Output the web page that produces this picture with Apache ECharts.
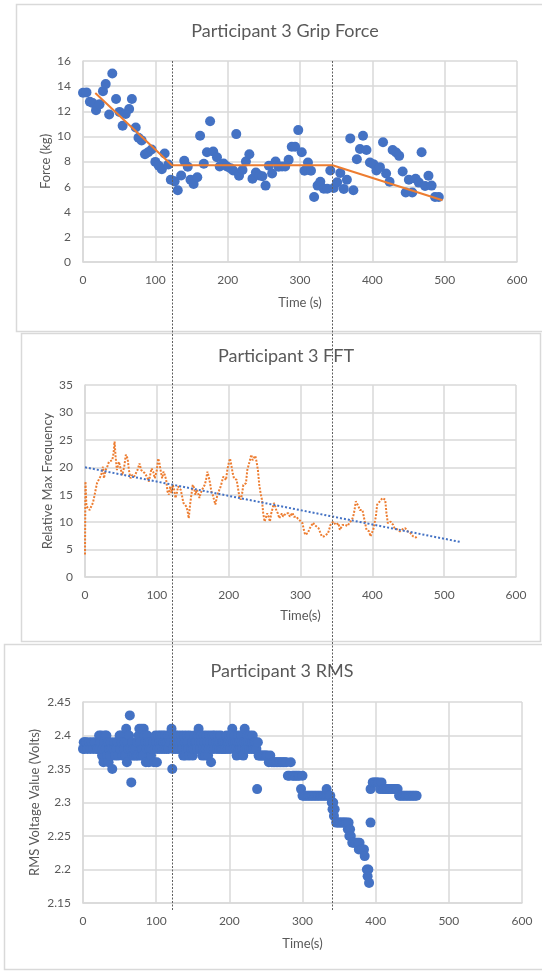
<!DOCTYPE html>
<html>
<head>
<meta charset="utf-8">
<script src="https://cdn.jsdelivr.net/npm/echarts@6/dist/echarts.min.js"></script>
<style>
html,body{margin:0;padding:0;background:#fff;}
#c{width:542px;height:972px;}
</style>
</head>
<body>
<div id="c"></div>
<script>
// ---------- Panel 1: Grip force ----------
const gripTime = [0,4.8,9.5,13.3,18,22.9,27.6,31.4,36.2,40.5,45.7,50.5,54.8,59,63.8,67.6,72.9,76.7,81,85.7,90,94.8,100,104.8,109,112.9,118,121.4,126.7,131,135.7,140,144.8,148.6,152.9,158,161.9,167,171.4,175.7,180,185.2,189,194.3,199,203.8,207.6,211.9,215.7,220.5,225.2,230,234.3,239,243.8,248,252.4,257,261.4,266.2,270.5,275.2,279.5,284.3,288.6,293.3,297.6,302.4,306.2,311,315.2,319.5,324.3,328.1,332.9,337.6,341.9,346.7,351.4,355.7,360.5,364.8,369.5,373.8,378.6,382.9,387.1,391.9,396.7,401.4,405.7,410.5,414.8,419,423.8,428.1,432.9,437.1,441.9,446.2,450.5,455.2,459.8,464.3,468.1,472.9,477.6,481.9,486.7,491.9];
const gripForce = [13.47,13.5,12.76,12.66,12.08,12.55,13.6,14.16,11.74,15.0,12.97,11.95,10.84,11.79,12.18,12.97,10.71,9.89,9.68,8.58,8.74,8.95,7.97,7.66,7.39,8.63,7.76,6.55,6.42,5.71,6.89,8.05,7.58,6.55,6.21,6.74,10.05,7.82,8.74,11.21,8.79,8.34,7.6,7.84,7.6,7.47,7.29,10.18,6.87,7.32,8.0,8.58,6.63,7.13,6.89,6.82,6.08,7.66,7.05,8.0,7.58,7.6,7.6,8.13,9.18,9.18,10.5,8.74,7.26,7.92,7.26,5.18,6.08,6.39,5.84,5.84,7.29,5.89,6.34,7.08,5.82,6.55,9.84,5.71,8.18,9.0,10.05,8.92,7.92,7.79,7.29,7.55,9.53,7.05,6.39,8.92,8.71,8.45,7.21,5.53,6.55,5.53,6.63,6.32,8.74,6.05,6.87,6.08,5.18,5.18];
const gripTrendTime = [17,123,345,497];
const gripTrendForce = [13.45,7.7,7.7,4.92];

// ---------- Panel 2: FFT ----------
const fftTime = [0,0.6,2,3.7,6.5,8.8,11,13,14.8,16.7,19.4,21.3,23,25,26.4,28.7,31,33.3,35.6,38,39.8,41.2,42.6,44.4,47.2,49.5,51.9,54.6,56.9,59.3,61.1,63.4,65.7,68.5,70.8,73.1,75.9,78.2,80.6,83.3,86.1,88.9,91.2,92.6,94.9,97.2,100,101.9,103.7,105.6,107.4,109.3,111.1,113,114.8,116.7,118.5,120.4,122.2,124.1,125.9,127.8,129.6,131.5,133.3,135.2,137,138.9,140.7,142.6,144.4,146.3,148.1,150,151.9,153.7,155.6,157.4,159.3,161.1,163,164.8,166.7,168.5,170.4,172.2,174.1,175.9,177.8,179.6,181.5,183.3,185.2,187,188.9,190.7,192.6,194.4,196.3,198.1,200,201.9,203.7,205.6,207.4,209.3,211.1,213,214.8,216.7,218.5,220.4,222.2,224.1,225.9,227.8,229.6,231.5,233.3,235.2,237,238.9,240.7,242.6,244.4,246.3,248.1,250,251.9,253.7,255.6,257.4,259.3,261.1,263,264.8,266.7,268.5,270.4,272.2,274.1,275.9,277.8,279.6,281.5,283.3,285.2,287,288.9,290.7,292.6,294.4,296.5,298.3,300,302.8,304.6,306.5,308.4,310.2,313,315.8,317.6,319.5,322.3,325.1,326.9,329.7,332.5,335.3,338.1,339.9,341.8,343.6,345.5,347.3,349.2,351,352.9,354.8,356.6,358.5,360.3,362.2,364,365.9,367.7,369.6,371.5,373.3,375.2,377,378.9,380.7,382.6,384.4,386.3,388.1,390,391.9,393.7,395.6,397.4,399.3,401.2,403,404.9,406.7,408.6,410.4,412.3,414.2,416,417.9,419.7,421.6,423.4,425.3,427.1,429,430.9,432.7,434.6,436.4,438.3,440.1,442,443.9,445.7,447.6,449.4,451.3,453.1,455,456.8,458.7,460.6,462.4];
const fftFreq = [4.1,17.4,12.9,12.9,12.2,12.9,13.5,14.7,15.9,17.1,16.8,18.3,18.9,20.1,18.0,19.5,20.1,21.0,21.0,21.3,22.6,24.7,21.9,19.5,21.0,19.8,18.6,20.1,22.3,21.6,19.5,18.0,18.6,18.3,18.9,19.5,20.7,19.5,19.2,18.9,18.3,17.4,18.9,19.8,19.2,18.0,19.5,21.6,20.7,19.2,18.0,19.2,18.6,17.7,15.6,15.0,16.5,15.3,16.8,15.9,14.4,15.3,16.5,16.5,15.9,14.7,13.5,13.2,12.9,12.2,10.7,13.2,15.0,16.8,16.2,15.0,15.9,15.3,14.4,15.3,15.9,15.9,16.8,17.7,19.2,18.3,17.1,15.6,15.0,14.1,13.2,14.4,15.3,15.6,16.5,17.4,18.3,18.6,17.7,19.5,20.7,21.6,20.4,18.9,18.0,17.7,17.7,16.2,14.7,14.1,15.0,16.8,17.1,17.1,19.5,20.4,21.3,22.3,21.3,21.6,22.1,21.0,19.5,16.8,15.3,14.1,11.6,10.1,10.1,11.6,11.0,10.1,11.6,12.5,13.5,12.9,12.0,11.6,10.7,11.0,11.6,11.0,10.7,11.6,11.3,11.6,11.0,11.2,11.7,11.0,10.7,11.0,10.6,10.4,10.2,9.8,8.6,7.7,7.4,8.0,8.9,9.5,9.9,9.5,9.2,8.9,8.3,7.4,7.4,7.7,7.9,8.0,9.5,9.8,10.1,10.1,9.5,9.2,9.8,8.6,8.9,9.5,9.8,9.5,9.5,9.3,9.8,10.1,10.4,11.0,12.2,13.8,13.5,12.9,12.2,12.5,12.2,11.0,9.8,8.6,8.3,8.3,7.4,8.0,8.6,9.8,11.0,13.2,13.5,13.8,14.0,14.4,14.7,14.1,11.6,9.8,9.8,10.1,10.1,9.5,8.9,8.6,8.7,8.5,8.3,8.3,8.7,8.9,8.9,8.7,8.3,8.1,8.0,7.7,7.4,7.1,7.2,7.4];
const fftTrendTime = [0,522];
const fftTrendFreq = [20,6.4];

// ---------- Panel 3: RMS ----------
const rmsTime = [0,1,2,3,4,6,8,10,12,14,16,18,20,22,23,24,25,26,27,28,29,30,31,32,33,34,35,36,37,38,39,40,42,43,44,46,47,48,50,51,52,53,54,56,57,58,59,60,61,62,63,64,65,66,67,68,69,70,72,73,74,75,76,77,78,79,80,81,82,83,84,85,86,87,88,89,90,91,92,93,94,96,97,98,99,100,101,102,103,104,105,106,107,108,109,110,111,112,113,114,115,116,117,118,119,120,121,122,123,124,125,126,127,128,129,130,131,132,134,135,136,137,138,139,140,141,142,143,144,145,146,148,149,150,151,152,153,154,155,156,157,158,159,160,161,162,163,164,165,166,167,168,169,170,171,172,173,174,175,176,177,178,179,180,182,183,184,185,186,187,188,189,190,191,192,193,194,195,196,197,198,199,200,201,202,203,204,205,206,207,208,209,210,211,212,213,214,215,216,217,218,219,220,221,222,223,224,225,226,227,228,229,230,231,232,233,234,235,236,237,238,239,240,242,244,246,248,250,252,254,256,258,260,262,264,266,268,270,272,274,276,278,280,282,284,286,288,290,292,294,296,298,300,300,302,304,306,308,310,312,314,316,318,320,322,324,326,328,330,332,333,334,336,338,340,341,342,343,344,346,348,350,352,354,356,358,360,362,363,364,365,366,368,370,372,374,376,377,378,380,382,384,385,388,389,390,391,393,393,396,398,400,402,404,406,408,410,412,414,416,418,420,422,424,426,428,430,432,434,436,438,440,442,444,446,448,450,452,454,456];
const rmsVolt = [2.38,2.39,2.38,2.39,2.39,2.38,2.39,2.38,2.39,2.38,2.39,2.38,2.38,2.40,2.38,2.39,2.40,2.37,2.38,2.36,2.39,2.40,2.38,2.40,2.37,2.39,2.36,2.38,2.37,2.39,2.38,2.35,2.38,2.39,2.37,2.38,2.39,2.37,2.40,2.38,2.40,2.39,2.37,2.38,2.39,2.37,2.41,2.36,2.39,2.38,2.40,2.43,2.38,2.33,2.39,2.37,2.38,2.37,2.38,2.37,2.39,2.37,2.40,2.41,2.39,2.37,2.41,2.38,2.37,2.41,2.40,2.39,2.36,2.38,2.40,2.39,2.36,2.38,2.39,2.37,2.38,2.39,2.36,2.38,2.40,2.39,2.36,2.38,2.40,2.39,2.38,2.40,2.39,2.38,2.40,2.39,2.38,2.40,2.39,2.38,2.39,2.40,2.38,2.39,2.40,2.39,2.41,2.35,2.38,2.40,2.39,2.38,2.40,2.39,2.38,2.40,2.39,2.38,2.40,2.39,2.38,2.37,2.40,2.39,2.37,2.38,2.40,2.39,2.38,2.37,2.40,2.38,2.39,2.37,2.38,2.40,2.39,2.38,2.39,2.38,2.40,2.41,2.39,2.38,2.40,2.39,2.37,2.38,2.40,2.39,2.37,2.38,2.40,2.39,2.37,2.38,2.40,2.39,2.36,2.38,2.40,2.39,2.38,2.40,2.39,2.38,2.40,2.39,2.38,2.39,2.40,2.38,2.39,2.38,2.39,2.38,2.39,2.38,2.40,2.39,2.38,2.39,2.40,2.38,2.39,2.40,2.41,2.39,2.38,2.40,2.39,2.38,2.37,2.39,2.40,2.38,2.39,2.38,2.40,2.39,2.38,2.37,2.39,2.41,2.38,2.39,2.38,2.40,2.39,2.38,2.40,2.39,2.38,2.39,2.40,2.38,2.39,2.38,2.39,2.38,2.32,2.39,2.37,2.37,2.37,2.37,2.37,2.37,2.37,2.36,2.37,2.36,2.36,2.36,2.36,2.36,2.36,2.36,2.36,2.36,2.36,2.36,2.34,2.34,2.36,2.34,2.34,2.34,2.34,2.34,2.34,2.32,2.31,2.34,2.31,2.31,2.31,2.31,2.31,2.31,2.31,2.31,2.31,2.31,2.31,2.31,2.31,2.31,2.31,2.31,2.32,2.31,2.31,2.31,2.30,2.29,2.30,2.28,2.29,2.27,2.27,2.27,2.27,2.27,2.27,2.27,2.27,2.26,2.27,2.25,2.26,2.25,2.24,2.24,2.24,2.24,2.24,2.23,2.24,2.23,2.23,2.23,2.22,2.20,2.19,2.20,2.18,2.27,2.32,2.33,2.33,2.33,2.33,2.33,2.32,2.33,2.32,2.32,2.32,2.32,2.32,2.32,2.32,2.32,2.32,2.32,2.32,2.31,2.31,2.31,2.31,2.31,2.31,2.31,2.31,2.31,2.31,2.31,2.31,2.31,2.31];

// phase boundary markers (seconds, on the grip-force time axis)
const phaseBoundaries = [123,344];

const BLUE = '#4472C4', ORANGE = '#ED7D31', TXT = '#595959', GRID = '#D9D9D9';
const FONT = 'Lato';

function zip(a,b){ return a.map((v,i)=>[v,b[i]]); }

function xAx(idx, name, nameGap){
  return {
    gridIndex: idx, type:'value', min:0, max:600, interval:100,
    name: name, nameLocation:'middle', nameGap: nameGap, nameMoveOverlap:false,
    nameTextStyle:{color:TXT, fontSize:13, fontFamily:FONT},
    axisLine:{show:true, lineStyle:{color:GRID, width:1.5}},
    axisTick:{show:false},
    axisLabel:{color:TXT, fontSize:12, fontFamily:FONT, margin:12},
    splitLine:{show:true, lineStyle:{color:GRID, width:1.5}}
  };
}
function yAx(idx, name, nameGap, min, max, interval, fmt){
  return {
    gridIndex: idx, type:'value', min:min, max:max, interval:interval,
    name: name, nameLocation:'middle', nameGap: nameGap, nameRotate:90, nameMoveOverlap:false,
    nameTextStyle:{color:TXT, fontSize:13, fontFamily:FONT},
    axisLine:{show:true, lineStyle:{color:GRID, width:1.5}},
    axisTick:{show:false},
    axisLabel:{color:TXT, fontSize:12, fontFamily:FONT, margin:12, formatter: fmt},
    splitLine:{show:true, lineStyle:{color:GRID, width:1.5}}
  };
}

const titleStyle = {color:TXT, fontSize:18, fontWeight:'normal', fontFamily:FONT};

const option = {
  animation:false,
  backgroundColor:'#fff',
  title:[
    {text:'Participant 3 Grip Force', left:280, top:17, textAlign:'center', textStyle:titleStyle},
    {text:'Participant 3 FFT', left:281, top:342, textAlign:'center', textStyle:titleStyle},
    {text:'Participant 3 RMS', left:277, top:657, textAlign:'center', textStyle:titleStyle}
  ],
  grid:[
    {left:83, top:61, width:434, height:201},
    {left:85, top:385, width:431, height:192},
    {left:83, top:702, width:439, height:201}
  ],
  xAxis:[ xAx(0,'Time (s)',34), xAx(1,'Time(s)',32), xAx(2,'Time(s)',34) ],
  yAxis:[
    yAx(0,'Force (kg)',31,0,16,2),
    yAx(1,'Relative Max Frequency',31,0,35,5),
    yAx(2,'RMS Voltage Value (Volts)',42,2.15,2.45,0.05, v => String(+v.toFixed(2)))
  ],
  series:[
    {type:'scatter', xAxisIndex:0, yAxisIndex:0, data: zip(gripTime,gripForce),
      symbolSize:10, itemStyle:{color:BLUE, opacity:1}},
    {type:'line', xAxisIndex:0, yAxisIndex:0, data: zip(gripTrendTime,gripTrendForce),
      showSymbol:false, lineStyle:{color:ORANGE, width:2}},
    {type:'line', xAxisIndex:1, yAxisIndex:1, data: zip(fftTime,fftFreq),
      showSymbol:false, lineStyle:{color:ORANGE, width:2, type:[2,1.5]}},
    {type:'line', xAxisIndex:1, yAxisIndex:1, data: zip(fftTrendTime,fftTrendFreq),
      showSymbol:false, lineStyle:{color:BLUE, width:2, type:[2,2]}},
    {type:'scatter', xAxisIndex:2, yAxisIndex:2, data: zip(rmsTime,rmsVolt),
      symbolSize:10, itemStyle:{color:BLUE, opacity:1}}
  ]
};

const chart = echarts.init(document.getElementById('c'), null, {renderer:'canvas'});
chart.setOption(option);

const yTop = chart.convertToPixel({yAxisIndex:0}, 16);
const yBot = chart.convertToPixel({yAxisIndex:2}, 2.15) + 7;
const markerLines = phaseBoundaries.map(t => {
  const x = Math.round(chart.convertToPixel({xAxisIndex:0}, t)) + 0.5;
  return {type:'line', z:100, silent:true,
    shape:{x1:x, y1:yTop, x2:x, y2:yBot},
    style:{stroke:'#606060', lineWidth:1, lineDash:[2,1.5]}};
});
const panelBoxes = [
  {x:16.5, y:4.5, w:540, h:327},
  {x:21.5, y:333.5, w:519, h:308},
  {x:4.5, y:644.5, w:545, h:325}
].map(b => ({type:'rect', z:-1, silent:true,
  shape:{x:b.x, y:b.y, width:b.w, height:b.h},
  style:{fill:'transparent', stroke:GRID, lineWidth:1.5}}));

chart.setOption({graphic: panelBoxes.concat(markerLines)});
</script>
</body>
</html>
